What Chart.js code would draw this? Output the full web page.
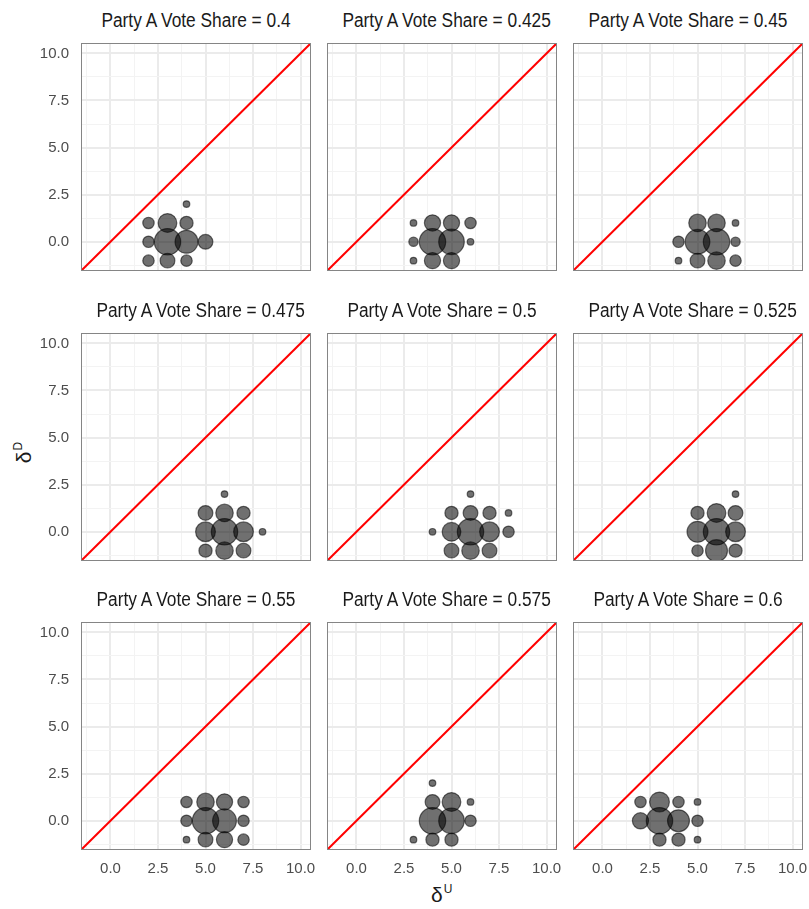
<!DOCTYPE html>
<html>
<head>
<meta charset="utf-8">
<script src="https://cdn.jsdelivr.net/npm/chart.js@4/dist/chart.umd.min.js"></script>
<style>
  html, body { margin: 0; padding: 0; background: #ffffff; }
  #wrap { position: relative; width: 809px; height: 909px; background: #ffffff; overflow: hidden; }
  canvas { position: absolute; }
  .panel-title { position: absolute; width: 230px; height: 24px; line-height: 24px; text-align: center;
                 font-family: 'Liberation Sans', Arial, sans-serif; font-size: 20px; color: #1a1a1a;
                 white-space: nowrap; transform: scaleX(0.866); transform-origin: 50% 50%; }
  .axis-title { position: absolute; font-family: 'Liberation Sans', Arial, sans-serif; font-size: 21px; color: #1a1a1a; white-space: nowrap; }
  .axis-title sup { font-size: 12px; vertical-align: 9px; margin-left: 1px; }
</style>
</head>
<body>
<div id="wrap">
  <div class="axis-title" id="xTitle" style="left:431px; top:882px;">δ<sup>U</sup></div>
  <div class="axis-title" id="yTitle" style="left:13px; top:440px; transform: rotate(-90deg); transform-origin: 50% 50%;">δ<sup>D</sup></div>
</div>
<script>
// Facet values (one panel per vote share)
const voteShares = [0.4, 0.425, 0.45, 0.475, 0.5, 0.525, 0.55, 0.575, 0.6];

// Bubble positions and counts for each panel
const bubbleX = [
  [4, 2, 3, 4, 2, 3, 4, 5, 2, 3, 4],
  [3, 4, 5, 6, 3, 4, 5, 6, 3, 4, 5],
  [5, 6, 7, 4, 5, 6, 7, 4, 5, 6, 7],
  [6, 5, 6, 7, 5, 6, 7, 8, 5, 6, 7],
  [6, 5, 6, 7, 8, 4, 5, 6, 7, 8, 5, 6, 7],
  [7, 5, 6, 7, 5, 6, 7, 5, 6, 7],
  [4, 5, 6, 7, 4, 5, 6, 7, 4, 5, 6, 7],
  [4, 4, 5, 6, 4, 5, 6, 3, 4, 5],
  [2, 3, 4, 5, 2, 3, 4, 5, 3, 4, 5]
];
const bubbleY = [
  [2, 1, 1, 1, 0, 0, 0, 0, -1, -1, -1],
  [1, 1, 1, 1, 0, 0, 0, 0, -1, -1, -1],
  [1, 1, 1, 0, 0, 0, 0, -1, -1, -1, -1],
  [2, 1, 1, 1, 0, 0, 0, 0, -1, -1, -1],
  [2, 1, 1, 1, 1, 0, 0, 0, 0, 0, -1, -1, -1],
  [2, 1, 1, 1, 0, 0, 0, -1, -1, -1],
  [1, 1, 1, 1, 0, 0, 0, 0, -1, -1, -1, -1],
  [2, 1, 1, 1, 0, 0, 0, -1, -1, -1],
  [1, 1, 1, 1, 0, 0, 0, 0, -1, -1, -1]
];
const bubbleCount = [
  [1, 3, 8, 4, 3, 16, 12, 5, 3, 5, 3],
  [1, 6, 6, 3, 2, 16, 15, 1, 1, 6, 6],
  [7, 7, 1, 3, 14, 16, 2, 1, 5, 7, 3],
  [1, 5, 7, 4, 9, 16, 9, 1, 4, 7, 5],
  [1, 4, 5, 4, 1, 1, 8, 16, 9, 3, 5, 7, 5],
  [1, 4, 8, 5, 10, 16, 9, 3, 11, 4],
  [3, 7, 6, 3, 3, 16, 13, 3, 1, 5, 6, 3],
  [1, 5, 8, 1, 16, 15, 3, 1, 4, 4],
  [3, 9, 3, 1, 6, 16, 11, 3, 4, 4, 1]
];

// Axis limits and tick values (major ticks labelled, minor ticks grid only)
const axisMin = -1.55;
const axisMax = 10.55;
const majorTicks = [0, 2.5, 5, 7.5, 10];
const minorTicks = [-1.25, 1.25, 3.75, 6.25, 8.75];

// Reference line y = x spanning the panel
const diagonal = [axisMin, axisMax];

// Panel geometry
const colLeft = [81, 327, 573];
const rowTop = [43, 333, 622];
const plotW = 230, plotH = 228;
const padL = 60, padT = 4, padR = 8, padB = 34;

const FONT = "'Liberation Sans', Arial, sans-serif";
const allTicks = minorTicks.concat(majorTicks).sort((a, b) => a - b);
const isMajor = v => majorTicks.some(m => Math.abs(m - v) < 1e-9);
const sizeScale = n => 3.3 * Math.sqrt(n);

const panelBorder = {
  id: 'panelBorder',
  afterDraw(chart) {
    const a = chart.chartArea, c = chart.ctx;
    c.save();
    c.strokeStyle = '#858585';
    c.lineWidth = 1;
    c.strokeRect(Math.round(a.left) + 0.5, Math.round(a.top) + 0.5,
                 Math.round(a.right - a.left) - 1, Math.round(a.bottom - a.top) - 1);
    c.restore();
  }
};

function axisCommon(showLabels, isX) {
  return {
    type: 'linear',
    min: axisMin,
    max: axisMax,
    afterBuildTicks(scale) { scale.ticks = allTicks.map(v => ({ value: v })); },
    afterFit(scale) {
      if (isX) { scale.height = padB; } else { scale.width = padL; }
      scale.paddingLeft = 0; scale.paddingRight = 0;
      scale.paddingTop = 0; scale.paddingBottom = 0;
    },
    border: { display: false },
    grid: {
      drawTicks: false,
      color: ctx => isMajor(ctx.tick.value) ? '#ebebeb' : '#f3f3f3',
      lineWidth: ctx => isMajor(ctx.tick.value) ? 2 : 1
    },
    ticks: {
      display: showLabels,
      autoSkip: false,
      maxRotation: 0,
      minRotation: 0,
      padding: isX ? 10 : 12,
      color: '#4d4d4d',
      font: { family: FONT, size: 15 },
      callback: v => isMajor(v) ? Number(v).toFixed(1) : ''
    }
  };
}

const wrap = document.getElementById('wrap');
voteShares.forEach((share, i) => {
  const row = Math.floor(i / 3), col = i % 3;

  const title = document.createElement('div');
  title.className = 'panel-title';
  title.textContent = 'Party A Vote Share = ' + share;
  title.style.left = colLeft[col] + 'px';
  title.style.top = (rowTop[row] - 35) + 'px';
  wrap.appendChild(title);

  const cv = document.createElement('canvas');
  const w = padL + plotW + padR, h = padT + plotH + padB;
  cv.width = w; cv.height = h;
  cv.style.width = w + 'px'; cv.style.height = h + 'px';
  cv.style.left = (colLeft[col] - padL) + 'px';
  cv.style.top = (rowTop[row] - padT) + 'px';
  wrap.appendChild(cv);

  const bubbles = bubbleX[i].map((x, k) => ({ x: x, y: bubbleY[i][k], r: sizeScale(bubbleCount[i][k]) }));

  new Chart(cv, {
    data: {
      datasets: [
        {
          type: 'bubble',
          data: bubbles,
          backgroundColor: 'rgba(0,0,0,0.56)',
          borderColor: 'rgba(0,0,0,0.55)',
          borderWidth: 1.2,
          clip: 0,
          order: 2
        },
        {
          type: 'line',
          data: diagonal.map(v => ({ x: v, y: v })),
          borderColor: '#ff0000',
          borderWidth: 2,
          pointRadius: 0,
          fill: false,
          clip: 0,
          order: 1
        }
      ]
    },
    options: {
      responsive: false,
      animation: false,
      devicePixelRatio: 1,
      layout: { autoPadding: false, padding: { left: 0, top: padT, right: padR, bottom: 0 } },
      plugins: {
        legend: { display: false },
        tooltip: { enabled: false },
        title: { display: false }
      },
      scales: {
        x: axisCommon(row === 2, true),
        y: axisCommon(col === 0, false)
      }
    },
    plugins: [panelBorder]
  });
});
</script>
</body>
</html>
